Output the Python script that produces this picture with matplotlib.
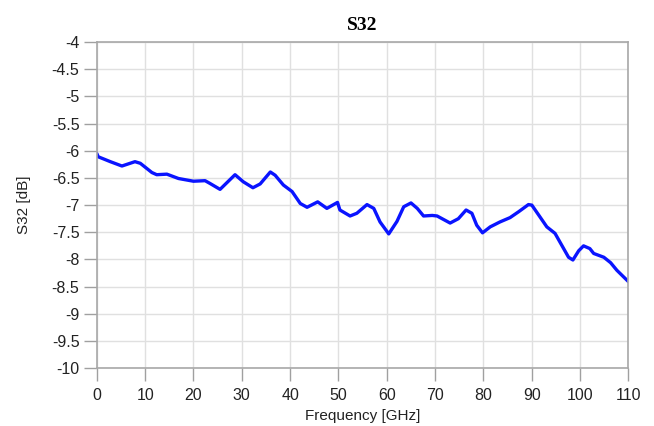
import matplotlib
matplotlib.use('Agg')
import matplotlib.pyplot as plt
import numpy as np

# S32 trace
freq_ghz = [0, 0.3, 2.8, 5.2, 7.9, 9, 11.4, 12.4, 14.5, 16.9, 20, 22.4, 23.4, 25.5,
            28.6, 30.3, 32.3, 33.8, 35.9, 36.9, 38.6, 40.4, 42.1, 43.5, 45.7, 47.6,
            49.8, 50.3, 52.4, 53.8, 55.9, 57.3, 58.6, 60.4, 62.1, 63.5, 65, 66.3,
            67.6, 69.4, 70.4, 73.1, 74.8, 76.4, 77.6, 78.6, 79.8, 81.4, 83.4, 85.5,
            87.3, 89.3, 90, 91.4, 93.1, 94.8, 96.2, 97.6, 98.5, 99.7, 100.7, 102,
            102.8, 104.9, 106.3, 107.6, 110]
s32_db = [-6.05, -6.11, -6.2, -6.28, -6.2, -6.23, -6.4, -6.44, -6.43, -6.51, -6.56,
          -6.55, -6.6, -6.71, -6.44, -6.57, -6.68, -6.61, -6.39, -6.45, -6.63, -6.75,
          -6.97, -7.04, -6.94, -7.06, -6.95, -7.09, -7.2, -7.15, -6.99, -7.06, -7.31,
          -7.53, -7.3, -7.03, -6.96, -7.06, -7.2, -7.19, -7.2, -7.33, -7.25, -7.09,
          -7.15, -7.37, -7.51, -7.4, -7.31, -7.23, -7.12, -6.99, -7.0, -7.18, -7.4,
          -7.52, -7.74, -7.96, -8.01, -7.84, -7.75, -7.8, -7.89, -7.96, -8.06, -8.2,
          -8.41]

x_ticks = list(range(0, 111, 10))
y_ticks = [-4, -4.5, -5, -5.5, -6, -6.5, -7, -7.5, -8, -8.5, -9, -9.5, -10]

fig = plt.figure(figsize=(6.54, 4.26), dpi=100)
ax = fig.add_axes([0.148, 0.136, 0.813, 0.765])

ax.plot(freq_ghz, s32_db, color='#0a14ff', linewidth=2.4, solid_capstyle='round',
        solid_joinstyle='round')

ax.set_xlim(0, 110)
ax.set_ylim(-10, -4)
ax.set_xticks(x_ticks)
ax.set_yticks(y_ticks)
ax.set_yticklabels(['%g' % v for v in y_ticks])
ax.grid(True, color='#e0e0e0', linewidth=1)
ax.set_axisbelow(True)

for s in ax.spines.values():
    s.set_color('#a8a8a8')
    s.set_linewidth(1.2)

ax.tick_params(axis='both', direction='out', length=9.5, width=1, color='#a0a0a0',
               labelsize=11.5, labelcolor='#222222', pad=3)
ax.tick_params(axis='x', pad=5)
for lab in ax.get_xticklabels() + ax.get_yticklabels():
    lab.set_family('Liberation Sans')

ax.set_xlabel('Frequency [GHz]', fontsize=11, family='Liberation Sans', color='#222222',
              labelpad=4)
ax.set_ylabel('S32 [dB]', fontsize=11, family='Liberation Sans', color='#222222',
              labelpad=15)
ax.set_title('S32', fontsize=14, fontweight='bold', family='Liberation Serif', pad=9)

fig.savefig('out.png', dpi=100)
